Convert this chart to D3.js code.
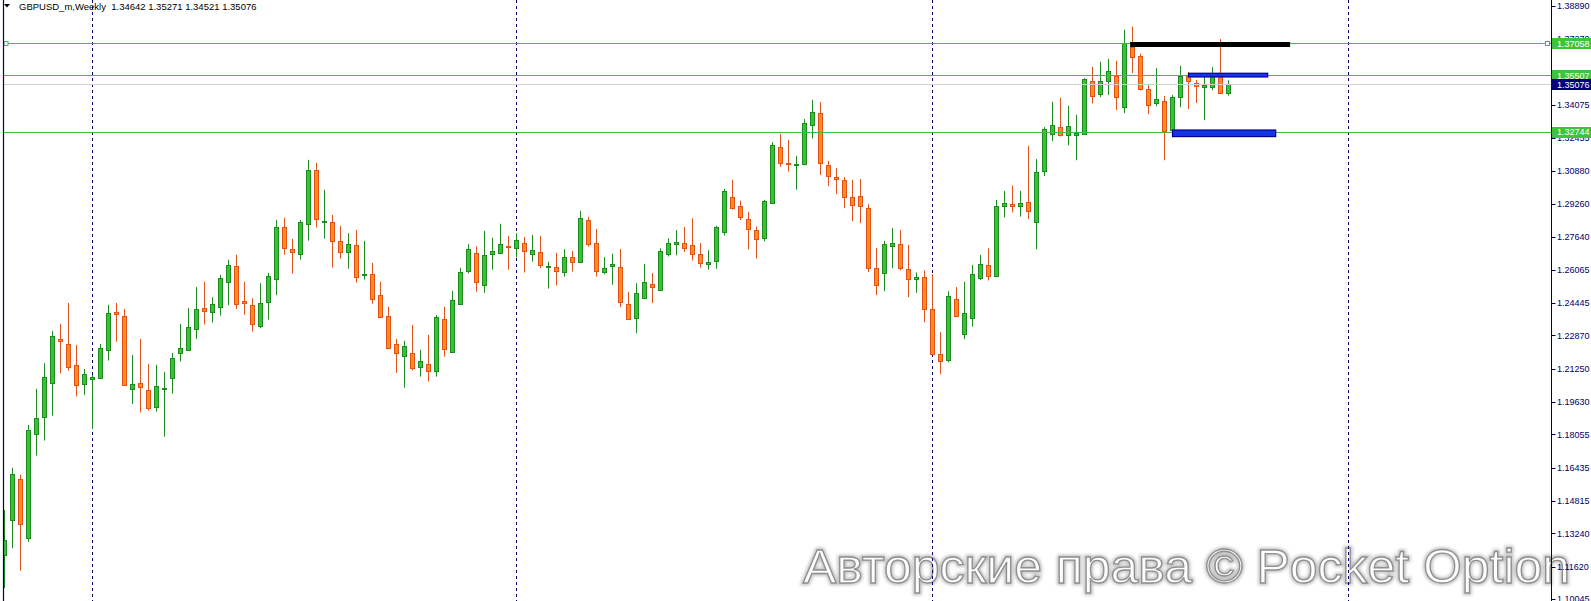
<!DOCTYPE html>
<html><head><meta charset="utf-8">
<script src="https://cdn.jsdelivr.net/npm/d3@7"></script>
<style>html,body{margin:0;padding:0;background:#fff;overflow:hidden}</style>
</head><body><svg id="c" width="1591" height="601"></svg>
<script>
// ---------- DATA ----------
const title = "GBPUSD_m,Weekly  1.34642 1.35271 1.34521 1.35076";
const opens = [
1.1217,1.1389,1.1587,1.1300,1.1806,1.1888,1.2054,1.2269,1.2243,1.2141,
1.2049,1.2073,1.2078,1.2214,1.2399,1.2380,1.2025,1.2054,1.2021,1.1940,
1.2025,1.2081,1.2200,1.2217,1.2319,1.2419,1.2402,1.2426,1.2548,1.2623,
1.2454,1.2433,1.2334,1.2448,1.2560,1.2813,1.2706,1.2684,1.2827,1.3090,
1.2840,1.2837,1.2744,1.2691,1.2725,1.2579,1.2584,1.2482,1.2381,1.2243,
1.2188,1.2200,1.2134,1.2146,1.2115,1.2365,1.2205,1.2441,1.2599,1.2686,
1.2530,1.2681,1.2685,1.2720,1.2710,1.2736,1.2681,1.2691,1.2619,1.2618,
1.2594,1.2667,1.2645,1.2847,1.2735,1.2594,1.2623,1.2618,1.2438,1.2370,
1.2470,1.2535,1.2509,1.2681,1.2730,1.2735,1.2725,1.2681,1.2633,1.2646,
1.2791,1.2959,1.2915,1.2852,1.2798,1.2759,1.2929,1.3202,1.3127,1.3114,
1.3119,1.3309,1.3367,1.3114,1.3056,1.3041,1.2959,1.2963,1.2905,1.2613,
1.2589,1.2720,1.2730,1.2608,1.2560,1.2569,1.2414,1.2195,1.2166,1.2462,
1.2292,1.2370,1.2567,1.2628,1.2577,1.2915,1.2926,1.2915,1.2934,1.2837,
1.3085,1.3265,1.3299,1.3260,1.3260,1.3265,1.3523,1.3460,1.3523,1.3550,
1.3396,1.3691,1.3644,1.3484,1.3416,1.3426,1.3284,1.3445,1.3550,1.3513,
1.3494,1.3494,1.3550,1.34642];
const highs = [
1.1437,1.1643,1.1608,1.1851,1.2026,1.2151,1.2308,1.2342,1.2444,1.2240,
1.2123,1.2094,1.2245,1.2435,1.2444,1.2415,1.2191,1.2269,1.2148,1.2143,
1.2109,1.2201,1.2342,1.2420,1.2521,1.2547,1.2472,1.2581,1.2654,1.2679,
1.2547,1.2467,1.2540,1.2590,1.2848,1.2858,1.2756,1.2848,1.3140,1.3125,
1.2994,1.2872,1.2819,1.2783,1.2799,1.2746,1.2639,1.2547,1.2425,1.2269,
1.2260,1.2337,1.2216,1.2289,1.2386,1.2425,1.2503,1.2615,1.2730,1.2720,
1.2795,1.2761,1.2829,1.2770,1.2783,1.2765,1.2775,1.2770,1.2644,1.2688,
1.2706,1.2697,1.2892,1.2863,1.2804,1.2667,1.2683,1.2706,1.2498,1.2540,
1.2634,1.2589,1.2710,1.2759,1.2798,1.2813,1.2856,1.2735,1.2701,1.2819,
1.2999,1.3043,1.2941,1.2887,1.2816,1.2945,1.3226,1.3266,1.3237,1.3159,
1.3338,1.3432,1.3421,1.3135,1.3100,1.3056,1.3043,1.3046,1.2924,1.2712,
1.2746,1.2809,1.2799,1.2727,1.2592,1.2603,1.2584,1.2302,1.2501,1.2521,
1.2547,1.2629,1.2678,1.2710,1.2945,1.2989,1.3015,1.2989,1.3208,1.3143,
1.3299,1.3422,1.3442,1.3403,1.3359,1.3537,1.3592,1.3617,1.3631,1.3622,
1.3772,1.3788,1.3656,1.3503,1.3586,1.3450,1.3455,1.3597,1.3567,1.3528,
1.3545,1.3591,1.3727,1.35271];
const lows = [
1.1057,1.1251,1.1142,1.1283,1.1702,1.1775,1.1896,1.2102,1.2115,1.1989,
1.1997,1.1831,1.2074,1.2164,1.2256,1.2041,1.1953,1.1911,1.1920,1.1916,
1.1794,1.2003,1.2159,1.2212,1.2269,1.2339,1.2349,1.2383,1.2433,1.2415,
1.2387,1.2305,1.2321,1.2363,1.2482,1.2679,1.2587,1.2655,1.2747,1.2811,
1.2757,1.2616,1.2660,1.2611,1.2543,1.2558,1.2441,1.2373,1.2225,1.2105,
1.2032,1.2115,1.2086,1.2062,1.2086,1.2183,1.2202,1.2438,1.2587,1.2499,
1.2494,1.2606,1.2681,1.2606,1.2667,1.2592,1.2645,1.2613,1.2514,1.2529,
1.2572,1.2597,1.2640,1.2718,1.2572,1.2584,1.2533,1.2423,1.2363,1.2297,
1.2462,1.2443,1.2506,1.2670,1.2676,1.2691,1.2650,1.2616,1.2606,1.2611,
1.2772,1.2898,1.2847,1.2704,1.2660,1.2743,1.2927,1.3106,1.3083,1.2995,
1.3114,1.3244,1.3066,1.3012,1.2973,1.2905,1.2842,1.2832,1.2594,1.2482,
1.2501,1.2613,1.2603,1.2472,1.2494,1.2350,1.2190,1.2098,1.2156,1.2378,
1.2268,1.2329,1.2556,1.2553,1.2572,1.2859,1.2884,1.2864,1.2852,1.2704,
1.3061,1.3231,1.3253,1.3210,1.3138,1.3263,1.3414,1.3445,1.3455,1.3382,
1.3367,1.3562,1.3477,1.3362,1.3401,1.3138,1.3250,1.3396,1.3387,1.3416,
1.3333,1.3479,1.3460,1.34521];
const closes = [
1.1292,1.1611,1.1368,1.1827,1.1884,1.2083,1.2282,1.2261,1.2132,1.2044,
1.2098,1.2086,1.2224,1.2394,1.2389,1.2045,1.2049,1.2034,1.1935,1.2039,
1.2029,1.2175,1.2224,1.2326,1.2414,1.2407,1.2438,1.2565,1.2628,1.2438,
1.2443,1.2341,1.2443,1.2574,1.2813,1.2710,1.2691,1.2837,1.3090,1.2852,
1.2843,1.2744,1.2691,1.2730,1.2572,1.2584,1.2462,1.2378,1.2227,1.2200,
1.2234,1.2127,1.2161,1.2112,1.2375,1.2222,1.2458,1.2594,1.2706,1.2545,
1.2676,1.2696,1.2730,1.2715,1.2749,1.2699,1.2701,1.2628,1.2623,1.2599,
1.2667,1.2642,1.2856,1.2730,1.2599,1.2613,1.2633,1.2448,1.2365,1.2492,
1.2545,1.2521,1.2696,1.2735,1.2740,1.2710,1.2681,1.2637,1.2642,1.2813,
1.2988,1.2908,1.2861,1.2803,1.2754,1.2939,1.3211,1.3124,1.3124,1.3119,
1.3318,1.3372,1.3124,1.3061,1.3046,1.2959,1.2920,1.2915,1.2613,1.2530,
1.2730,1.2735,1.2613,1.2560,1.2569,1.2414,1.2195,1.2161,1.2477,1.2383,
1.2394,1.2584,1.2633,1.2574,1.2915,1.2929,1.2916,1.2931,1.2893,1.3080,
1.3289,1.3309,1.3260,1.3304,1.3270,1.3532,1.3450,1.3523,1.3571,1.3445,
1.3708,1.3640,1.3482,1.3406,1.3435,1.3278,1.3445,1.3550,1.3523,1.3498,
1.3503,1.3550,1.3464,1.35076];
const yearBreaks = [11, 64, 116, 168];           // bar indices of period separators
const axisTicks = [1.38890,1.37270,1.35695,1.34075,1.32455,1.30880,1.29260,1.27640,1.26065,
  1.24445,1.22870,1.21250,1.19630,1.18055,1.16435,1.14815,1.13240,1.11620,1.10045];
const hiddenTickLabels = [1.35695];              // fully covered by a price tag in the reference
const levels = [1.37058, 1.35507, 1.32744];      // horizontal lines
const bidPrice = 1.35076;
const blackLine = {from: 140.7, to: 160.7, price: 1.3701};
const zones = [
  {from: 148.0, to: 157.9, top: 1.3561, bottom: 1.3543},
  {from: 146.0, to: 158.9, top: 1.3285, bottom: 1.3253}
];
const watermark = "Авторские права © Pocket Option";

// ---------- DRAW ----------
const W = 1591, H = 601, axisX = 1551.5;
const svg = d3.select("#c");
const x = d3.scaleLinear().domain([0, 153]).range([4.5, 1228.5]);
const y = d3.scaleLinear().domain([1.10045, 1.38890]).range([599, 5.8]);
const py = v => Math.round(y(v)) + 0.5;
const FONT = "'Liberation Sans', Arial, sans-serif";

const defs = svg.append("defs");
defs.append("clipPath").attr("id","plot").append("rect")
  .attr("x",4).attr("y",0).attr("width",axisX-4).attr("height",H);
defs.append("filter").attr("id","blur").append("feGaussianBlur").attr("stdDeviation",1.4);

svg.append("rect").attr("width",W).attr("height",H).attr("fill","#fff");

// watermark
const wm = svg.append("g");
wm.append("text").text(watermark).attr("x",803).attr("y",583)
  .attr("font-family",FONT).attr("font-size",49)
  .attr("textLength",767).attr("lengthAdjust","spacingAndGlyphs")
  .attr("fill","none").attr("stroke","#c4c4c4").attr("stroke-width",4.5).attr("filter","url(#blur)");
wm.append("text").text(watermark).attr("x",803).attr("y",583)
  .attr("font-family",FONT).attr("font-size",49)
  .attr("textLength",767).attr("lengthAdjust","spacingAndGlyphs")
  .attr("fill","#fdfdfd").attr("stroke","#8e8e8e").attr("stroke-width",1.3);

const plot = svg.append("g").attr("clip-path","url(#plot)");

// period separators
plot.selectAll("line.sep").data(yearBreaks).enter().append("line")
  .attr("x1",d=>x(d)).attr("x2",d=>x(d)).attr("y1",0).attr("y2",H)
  .attr("stroke","#000070").attr("stroke-width",1).attr("stroke-dasharray","3,3");

// candles
const data = opens.map((o,i)=>({i, o, h: highs[i], l: lows[i], c: closes[i]}));
const upFill = "#36c436", upLine = "#1f8a1f", dnFill = "#ff8c1a", dnLine = "#e3521a";
const cg = plot.append("g");
cg.selectAll("line.w").data(data).enter().append("line")
  .attr("x1",d=>x(d.i)).attr("x2",d=>x(d.i))
  .attr("y1",d=>y(d.h)).attr("y2",d=>y(d.l))
  .attr("stroke",d=>d.c>=d.o?upLine:dnLine).attr("stroke-width",1);
cg.selectAll("rect.b").data(data).enter().append("rect")
  .attr("x",d=>x(d.i)-2).attr("width",4)
  .attr("y",d=>py(Math.max(d.o,d.c)))
  .attr("height",d=>Math.max(1, Math.round(y(Math.min(d.o,d.c))) - Math.round(y(Math.max(d.o,d.c)))))
  .attr("fill",d=>d.c>=d.o?upFill:dnFill)
  .attr("stroke",d=>d.c>=d.o?upLine:dnLine).attr("stroke-width",1);

// bid line
plot.append("line").attr("x1",4).attr("x2",axisX).attr("y1",py(bidPrice)).attr("y2",py(bidPrice))
  .attr("stroke","#cfcfcf").attr("stroke-width",1);
// level lines
plot.selectAll("line.lv").data(levels).enter().append("line")
  .attr("x1",4).attr("x2",axisX).attr("y1",d=>py(d)).attr("y2",d=>py(d))
  .attr("stroke","#3cbf3c").attr("stroke-width",1);
// anchor squares on first level
[6, axisX-4].forEach(px=>{
  plot.append("rect").attr("x",px-2).attr("y",py(levels[0])-2).attr("width",4).attr("height",4)
    .attr("fill","#fff").attr("stroke","#3cbf3c").attr("stroke-width",1);
});
// black line
plot.append("line").attr("x1",x(blackLine.from)).attr("x2",x(blackLine.to))
  .attr("y1",y(blackLine.price)).attr("y2",y(blackLine.price))
  .attr("stroke","#000").attr("stroke-width",5);
// zones
plot.selectAll("rect.z").data(zones).enter().append("rect")
  .attr("x",d=>x(d.from)).attr("width",d=>x(d.to)-x(d.from))
  .attr("y",d=>y(d.top)).attr("height",d=>y(d.bottom)-y(d.top))
  .attr("fill","#1434e6").attr("stroke","#000090").attr("stroke-width",1.2);

// frame
svg.append("line").attr("x1",3.5).attr("x2",3.5).attr("y1",0).attr("y2",H).attr("stroke","#000060").attr("stroke-width",1.2);
svg.append("line").attr("x1",axisX).attr("x2",axisX).attr("y1",0).attr("y2",H).attr("stroke","#000060").attr("stroke-width",1);

// axis ticks
const ax = svg.append("g");
ax.selectAll("line.t").data(axisTicks).enter().append("line")
  .attr("x1",axisX).attr("x2",axisX+4).attr("y1",d=>py(d)).attr("y2",d=>py(d))
  .attr("stroke","#000060");
ax.selectAll("text.t").data(axisTicks.filter(v=>!hiddenTickLabels.includes(v))).enter().append("text")
  .attr("x",1557).attr("y",d=>y(d)+3.3).text(d=>d.toFixed(5))
  .attr("font-family",FONT).attr("font-size",9)
  .attr("fill","#00006a");

// price labels
const tags = levels.map(v=>({v, bg:"#3cc43c"})).concat([{v:bidPrice, bg:"#00007a"}]);
const tg = svg.append("g");
tags.forEach(t=>{
  const cy = y(t.v);
  tg.append("rect").attr("x",axisX+0.5).attr("y",Math.round(cy)-5).attr("width",W-axisX).attr("height",11).attr("fill",t.bg);
  tg.append("text").attr("x",1557).attr("y",cy+3.3).text(t.v.toFixed(5))
    .attr("font-family",FONT).attr("font-size",9).attr("fill","#fff");
});

// title
svg.append("path").attr("d","M4,4 L10,4 L7,7.5 Z").attr("fill","#000");
svg.append("text").attr("x",19).attr("y",9.5).text(title)
  .attr("font-family",FONT).attr("font-size",9.5).attr("fill","#000")
  .style("white-space","pre");
</script></body></html>
